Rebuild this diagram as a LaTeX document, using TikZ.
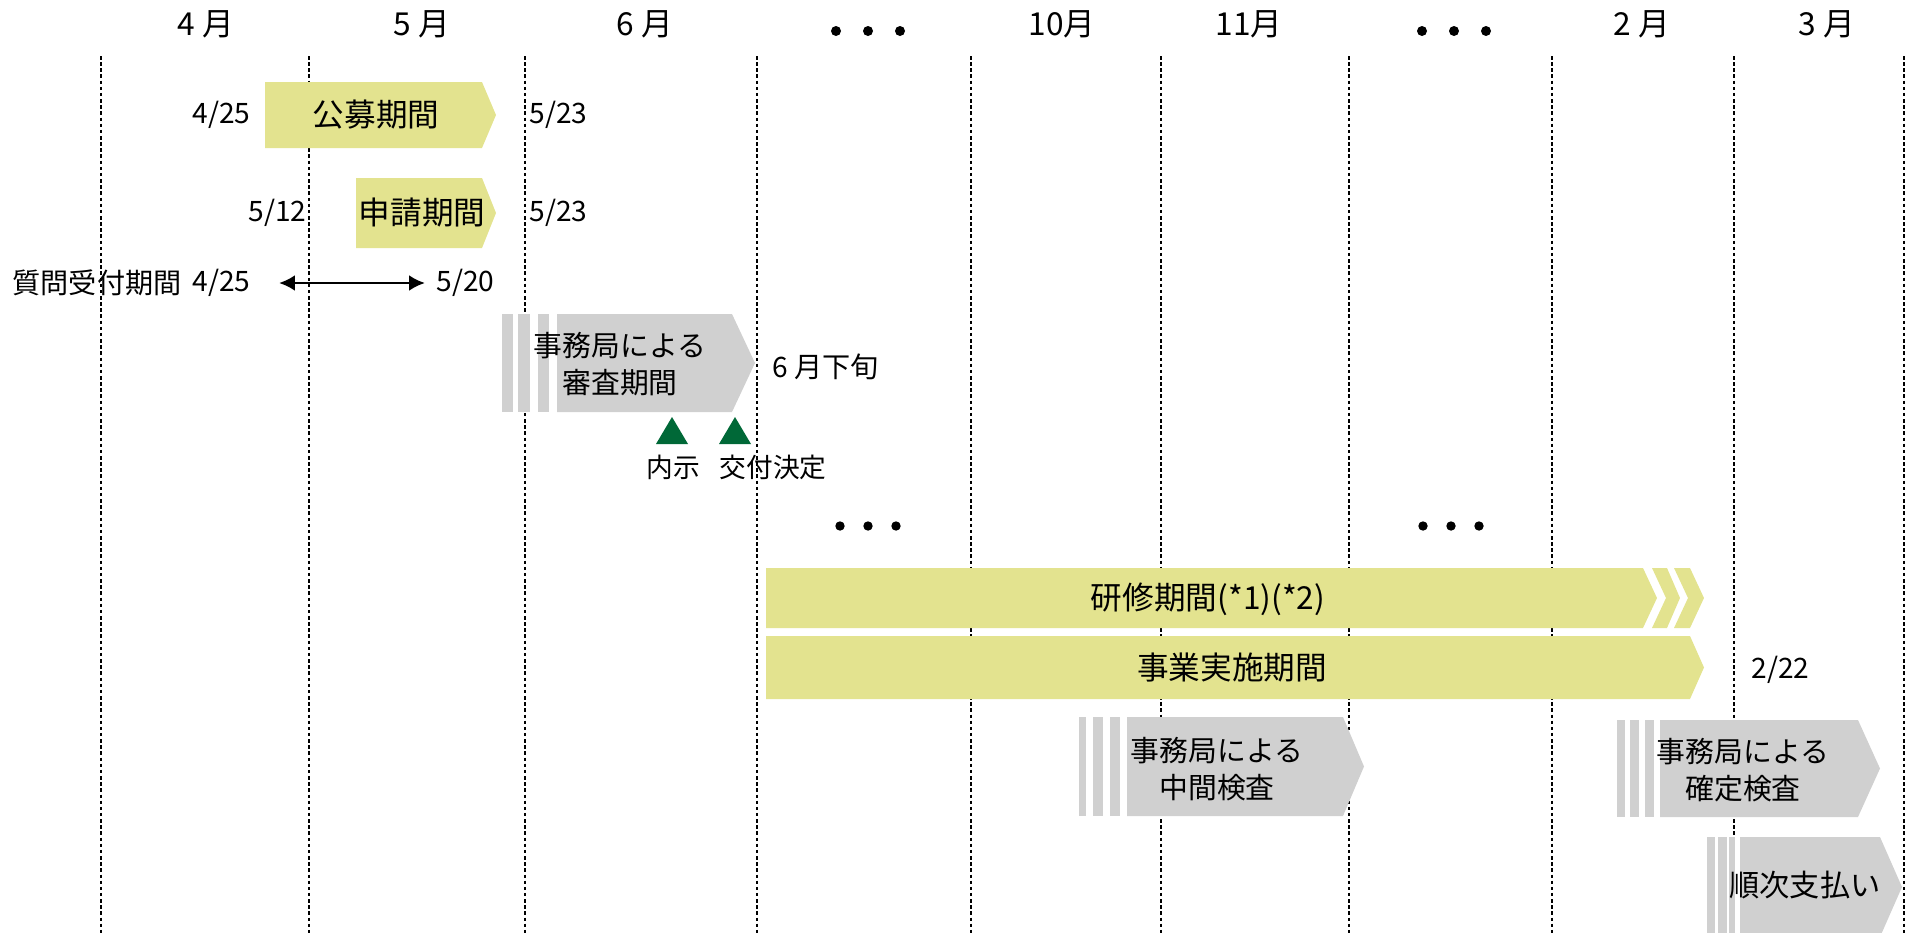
\documentclass[tikz,border=0pt]{standalone}
\usepackage{fontspec}
\setmainfont{Noto Sans CJK JP}
\usetikzlibrary{arrows.meta}
\definecolor{planyellow}{RGB}{227,227,143}
\definecolor{plangray}{RGB}{208,208,208}
\definecolor{plangreen}{RGB}{0,104,55}
\def\tagarrow[#1](#2,#3)(#4,#5)(#6){\fill[#1] (#2,#3) -- (#4,#3) -- (#6,{(#3+#5)/2}) -- (#4,#5) -- (#2,#5) -- cycle;}
\tikzset{
	monthline/.style={line width=0.37pt, dash pattern=on 1pt off 0.75pt},
	monthlbl/.style={font=\fontsize{9}{11}\selectfont},
	datelbl/.style={font=\fontsize{8}{10}\selectfont, inner sep=0pt},
	marklbl/.style={font=\fontsize{7.6}{9}\selectfont, inner sep=0pt},
	barlbl/.style={font=\fontsize{9}{11}\selectfont, inner sep=0pt},
	boxlbl/.style={font=\fontsize{8.2}{10.6}\selectfont, align=center, inner sep=0pt},
	barfill/.style={fill=planyellow},
	stripefill/.style={fill=plangray},
	spanarrow/.style={{Latex[length=4.5pt,width=4.5pt]}-{Latex[length=4.5pt,width=4.5pt]}, line width=0.8pt, shorten <=0.28cm, shorten >=0.11cm}
}
\begin{document}
\begin{tikzpicture}[x=0.01cm, y=-0.01cm]
		%%%%% START %%%%%
		\useasboundingbox (0,0) rectangle (1914,933);
		
		% month grid
		\draw[monthline] (101,56) -- (101,933);
		\draw[monthline] (309,56) -- (309,933);
		\draw[monthline] (525,56) -- (525,933);
		\draw[monthline] (757,56) -- (757,933);
		\draw[monthline] (971,56) -- (971,933);
		\draw[monthline] (1161,56) -- (1161,933);
		\draw[monthline] (1349,56) -- (1349,933);
		\draw[monthline] (1552,56) -- (1552,933);
		\draw[monthline] (1734,56) -- (1734,933);
		\draw[monthline] (1904,56) -- (1904,933);
		
		\node[monthlbl] (apr) at (206,24) {4 月};
		\node[monthlbl] (may) at (422,24) {5 月};
		\node[monthlbl] (jun) at (645,24) {6 月};
		\node[monthlbl] (oct) at (1062,24) {10月};
		\node[monthlbl] (nov) at (1249,24) {11月};
		\node[monthlbl] (feb) at (1642,24) {2 月};
		\node[monthlbl] (mar) at (1827,24) {3 月};
		
		\fill (836,31) circle (5);
		\fill (868,31) circle (5);
		\fill (900,31) circle (5);
		\fill (1422,31) circle (5);
		\fill (1454,31) circle (5);
		\fill (1486,31) circle (5);
		
		% application
		\tagarrow[barfill](265,82)(482,148)(496)
		\node[barlbl] (koubo) at (376,115) {公募期間};
		\node[datelbl, anchor=east] (ka425) at (251,115) {4/25};
		\node[datelbl, anchor=west] (ka523) at (529,115) {5/23};
		
		\tagarrow[barfill](356,178)(482,248)(496)
		\node[barlbl] (shinsei) at (422,213) {申請期間};
		\node[datelbl, anchor=east] (sh512) at (307,213) {5/12};
		\node[datelbl, anchor=west] (sh523) at (529,213) {5/23};
		
		\node[datelbl, anchor=west] (shitsumon) at (12,283) {質問受付期間};
		\node[datelbl, anchor=east] (qa425) at (251,283) {4/25};
		\node[datelbl, anchor=west] (qa520) at (436,283) {5/20};
		\draw[spanarrow] (qa425.east) -- (qa520.west);
		
		% review
		\fill[stripefill] (502,314) rectangle (513,412);
		\fill[stripefill] (518,314) rectangle (530,412);
		\fill[stripefill] (538,314) rectangle (549,412);
		\tagarrow[stripefill](557,314)(732,412)(755)
		\node[boxlbl] (shinsa) at (620,364) {事務局による\\審査期間};
		\node[datelbl, anchor=west] (gejun) at (772,367) {6 月下旬};
		
		\fill[plangreen] (672,417) -- (688,444) -- (656,444) -- cycle;
		\fill[plangreen] (735,417) -- (751,444) -- (719,444) -- cycle;
		\node[marklbl] (naiji) at (673,467) {内示};
		\node[marklbl] (kettei) at (773,467) {交付決定};
		
		\fill (840,526) circle (4.7);
		\fill (868,526) circle (4.7);
		\fill (896,526) circle (4.7);
		\fill (1423,526) circle (4.7);
		\fill (1451,526) circle (4.7);
		\fill (1479,526) circle (4.7);
		
		% project period
		\tagarrow[barfill](766,568)(1643,628)(1657)
		\fill[barfill] (1652,568) -- (1667,568) -- (1680,598) -- (1667,628) -- (1652,628) -- (1666,598) -- cycle;
		\fill[barfill] (1674,568) -- (1690,568) -- (1704,598) -- (1690,628) -- (1674,628) -- (1688,598) -- cycle;
		\node[barlbl] (kenshu) at (1208,599) {研修期間(*1)(*2)};
		
		\tagarrow[barfill](766,636)(1690,699)(1704)
		\node[barlbl] (jigyou) at (1232,668) {事業実施期間};
		\node[datelbl, anchor=west] (end222) at (1751,670) {2/22};
		
		% inspections
		\fill[stripefill] (1079,717) rectangle (1086,816);
		\fill[stripefill] (1093,717) rectangle (1103,816);
		\fill[stripefill] (1110,717) rectangle (1120,816);
		\tagarrow[stripefill](1127,717)(1343,816)(1364)
		\node[boxlbl] (chukan) at (1217,769) {事務局による\\中間検査};
		
		\fill[stripefill] (1617,720) rectangle (1625,817);
		\fill[stripefill] (1630,720) rectangle (1639,817);
		\fill[stripefill] (1645,720) rectangle (1654,817);
		\tagarrow[stripefill](1660,720)(1858,817)(1880)
		\node[boxlbl] (kakutei) at (1743,770) {事務局による\\確定検査};
		
		\fill[stripefill] (1707,837) rectangle (1715,937);
		\fill[stripefill] (1718,837) rectangle (1727,937);
		\fill[stripefill] (1729,837) rectangle (1735,937);
		\tagarrow[stripefill](1740,837)(1880,937)(1902)
		\node[boxlbl, font=\fontsize{8.6}{10}\selectfont] (shiharai) at (1805,885) {順次支払い};
		
		%%%%% END %%%%%
\end{tikzpicture}
\end{document}
